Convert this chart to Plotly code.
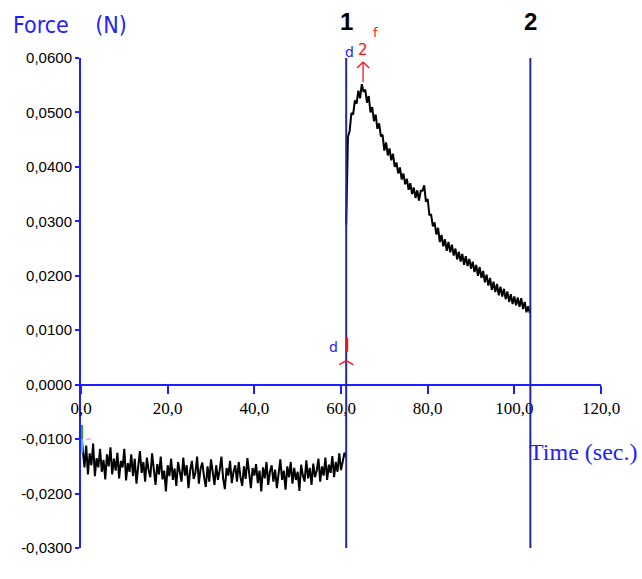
import numpy as np
import plotly.graph_objects as go

# ---------------- data ----------------
seg1_t0, seg1_dt = 0.0, 0.4
seg1_force = [
    -0.0085, -0.0125, -0.0152, -0.0112, -0.0165, -0.0126, -0.0148, -0.0108, -0.0168, -0.0135,
    -0.0152, -0.0118, -0.0160, -0.0138, -0.0174, -0.0128, -0.0150, -0.0115, -0.0165, -0.0136,
    -0.0158, -0.0125, -0.0172, -0.0140, -0.0152, -0.0118, -0.0176, -0.0144, -0.0160, -0.0128,
    -0.0168, -0.0136, -0.0182, -0.0150, -0.0122, -0.0162, -0.0142, -0.0178, -0.0134, -0.0157,
    -0.0170, -0.0126, -0.0154, -0.0184, -0.0146, -0.0165, -0.0132, -0.0174, -0.0158, -0.0196,
    -0.0148, -0.0168, -0.0136, -0.0175, -0.0154, -0.0186, -0.0142, -0.0162, -0.0178, -0.0134,
    -0.0167, -0.0148, -0.0190, -0.0157, -0.0140, -0.0173, -0.0162, -0.0132, -0.0182, -0.0154,
    -0.0143, -0.0170, -0.0188, -0.0150, -0.0178, -0.0137, -0.0162, -0.0184, -0.0148, -0.0175,
    -0.0157, -0.0132, -0.0172, -0.0192, -0.0153, -0.0167, -0.0140, -0.0181, -0.0160, -0.0148,
    -0.0178, -0.0142, -0.0170, -0.0186, -0.0150, -0.0173, -0.0135, -0.0163, -0.0190, -0.0153,
    -0.0167, -0.0146, -0.0181, -0.0158, -0.0196, -0.0152, -0.0172, -0.0142, -0.0184, -0.0160,
    -0.0148, -0.0178, -0.0156, -0.0190, -0.0165, -0.0137, -0.0175, -0.0158, -0.0193, -0.0150,
    -0.0170, -0.0142, -0.0182, -0.0153, -0.0175, -0.0160, -0.0195, -0.0147, -0.0167, -0.0178,
    -0.0139, -0.0172, -0.0153, -0.0184, -0.0145, -0.0170, -0.0158, -0.0136, -0.0178, -0.0150,
    -0.0167, -0.0134, -0.0175, -0.0147, -0.0162, -0.0131, -0.0170, -0.0142, -0.0160, -0.0126,
    -0.0157, -0.0138, -0.0125, -0.0133,
]

seg2_t0, seg2_dt = 61.2, 0.4
seg2_force = [
    0.0294, 0.0455, 0.0466, 0.0499, 0.0496, 0.0522, 0.0516, 0.0540, 0.0526, 0.0552,
    0.0538, 0.0542, 0.0518, 0.0530, 0.0500, 0.0510, 0.0484, 0.0496, 0.0470, 0.0480,
    0.0456, 0.0459, 0.0430, 0.0445, 0.0421, 0.0434, 0.0412, 0.0424, 0.0400, 0.0408,
    0.0388, 0.0399, 0.0377, 0.0388, 0.0368, 0.0378, 0.0358, 0.0370, 0.0350, 0.0362,
    0.0343, 0.0357, 0.0338, 0.0356, 0.0356, 0.0366, 0.0336, 0.0341, 0.0312, 0.0312,
    0.0291, 0.0298, 0.0276, 0.0288, 0.0262, 0.0275, 0.0254, 0.0267, 0.0246, 0.0262,
    0.0243, 0.0257, 0.0237, 0.0250, 0.0230, 0.0244, 0.0226, 0.0240, 0.0220, 0.0236,
    0.0218, 0.0231, 0.0213, 0.0226, 0.0207, 0.0220, 0.0200, 0.0216, 0.0196, 0.0209,
    0.0188, 0.0202, 0.0182, 0.0196, 0.0174, 0.0189, 0.0170, 0.0185, 0.0164, 0.0180,
    0.0162, 0.0176, 0.0157, 0.0171, 0.0152, 0.0166, 0.0148, 0.0162, 0.0146, 0.0160,
    0.0143, 0.0159, 0.0139, 0.0152, 0.0133, 0.0144, 0.0131,
]

cursor_times = [61.2, 103.7]
cursor_labels = ["1", "2"]
peak_t, peak_v = 65.1, 0.0545

x_tickvals = [0, 20, 40, 60, 80, 100, 120]
x_ticktext = ["0,0", "20,0", "40,0", "60,0", "80,0", "100,0", "120,0"]
y_tickvals = [0.06, 0.05, 0.04, 0.03, 0.02, 0.01, 0.0, -0.01, -0.02, -0.03]
y_ticktext = ["0,0600", "0,0500", "0,0400", "0,0300", "0,0200", "0,0100",
              "0,0000", "-0,0100", "-0,0200", "-0,0300"]
y_title = "Force    (N)"
x_title = "Time (sec.)"

# ---------------- figure ----------------
seg1_t = seg1_t0 + seg1_dt * np.arange(len(seg1_force))
seg2_t = seg2_t0 + seg2_dt * np.arange(len(seg2_force))

BLUE = "#1e1eff"
NAVY = "#26269c"
RED = "#ff1010"

fig = go.Figure()
for tt, ff in [(seg1_t, seg1_force), (seg2_t, seg2_force)]:
    fig.add_trace(go.Scatter(x=tt, y=ff, mode="lines",
                             line=dict(color="black", width=2.0),
                             hoverinfo="skip", showlegend=False))

ymin, ymax = -0.03, 0.06
xmin, xmax = 0, 120

# cursor lines
for ct, lab in zip(cursor_times, cursor_labels):
    fig.add_shape(type="line", x0=ct, x1=ct, y0=ymin, y1=ymax, xref="x", yref="y",
                  line=dict(color=NAVY, width=2), layer="above")
    fig.add_annotation(x=ct, y=1.0735, xref="x", yref="paper", text=lab,
                       showarrow=False,
                       font=dict(family="Liberation Sans", size=24, color="black",
                                 weight="bold"),
                       xanchor="center", yanchor="middle")


def pix_line(xa, ya, x0, y0, x1, y1, color=RED, width=1.3):
    fig.add_shape(type="line", xref="x", yref="y", xsizemode="pixel", ysizemode="pixel",
                  xanchor=xa, yanchor=ya, x0=x0, y0=y0, x1=x1, y1=y1,
                  line=dict(color=color, width=width))


# red arrow at peak (pixel offsets relative to the peak)
pix_line(peak_t, peak_v, 0, 6, 0, 26)
pix_line(peak_t, peak_v, -6, 20, 0, 26)
pix_line(peak_t, peak_v, 0, 26, 6, 20)

# red cursor marker near zero at cursor 1
c1 = cursor_times[0]
pix_line(c1, 0.0, 1, 33, 1, 47, width=2)
pix_line(c1, 0.0, -7, 20, 0, 24)
pix_line(c1, 0.0, 0, 24, 7, 20)

# small coloured cursor ticks at origin
pix_line(0.0, -0.01, 1, 0, 1, 14, color="#22aa22", width=2)
pix_line(0.0, -0.01, 1, 0, 1, -14, color="#44bbff", width=2)
pix_line(0.0, -0.01, 5, 0, 10, 0, color="#ff66ff", width=1)


def small_text(x, y, text, color, dx, dy, size=13):
    fig.add_annotation(x=x, y=y, xref="x", yref="y", text=text, showarrow=False,
                       xshift=dx, yshift=dy,
                       font=dict(family="DejaVu Sans", size=size, color=color),
                       xanchor="center", yanchor="middle")


small_text(peak_t, peak_v, "2", RED, 0, 38, size=15)
small_text(peak_t, peak_v, "f", RED, 12, 55, size=13)
small_text(c1, peak_v, "d", BLUE, 3, 36, size=14)
small_text(c1, 0.0, "d", BLUE, -13, 38, size=14)

# axis titles
fig.add_annotation(x=-0.1346, y=1.067, xref="paper", yref="paper", text=y_title,
                   showarrow=False, xanchor="left", yanchor="middle",
                   font=dict(family="Liberation Sans Narrow, DejaVu Sans Condensed, Liberation Sans",
                             size=23, color=BLUE))
fig.add_annotation(x=0.8577, y=0.196, xref="paper", yref="paper", text=x_title,
                   showarrow=False, xanchor="left", yanchor="middle",
                   font=dict(family="Liberation Serif", size=24, color=BLUE))

fig.update_layout(
    width=642, height=579,
    margin=dict(l=81, r=41, t=58, b=31),
    paper_bgcolor="white", plot_bgcolor="white",
    showlegend=False,
    xaxis=dict(range=[xmin, xmax], anchor="free", position=(0 - ymin) / (ymax - ymin),
               showline=True, linecolor=BLUE, linewidth=2, showgrid=False, zeroline=False,
               ticks="outside", ticklen=8, tickwidth=2, tickcolor=BLUE,
               tickvals=x_tickvals, ticktext=x_ticktext,
               tickfont=dict(family="Liberation Serif", size=17, color="black")),
    yaxis=dict(range=[ymin, ymax], showline=True, linecolor=BLUE, linewidth=2,
               showgrid=False, zeroline=False,
               ticks="outside", ticklen=4, tickwidth=2, tickcolor=BLUE,
               tickvals=y_tickvals, ticktext=y_ticktext,
               tickfont=dict(family="Liberation Sans", size=15, color="black")),
)

fig.write_html("out.html", config={"displayModeBar": False},
               post_script="document.body.style.margin='0';")
